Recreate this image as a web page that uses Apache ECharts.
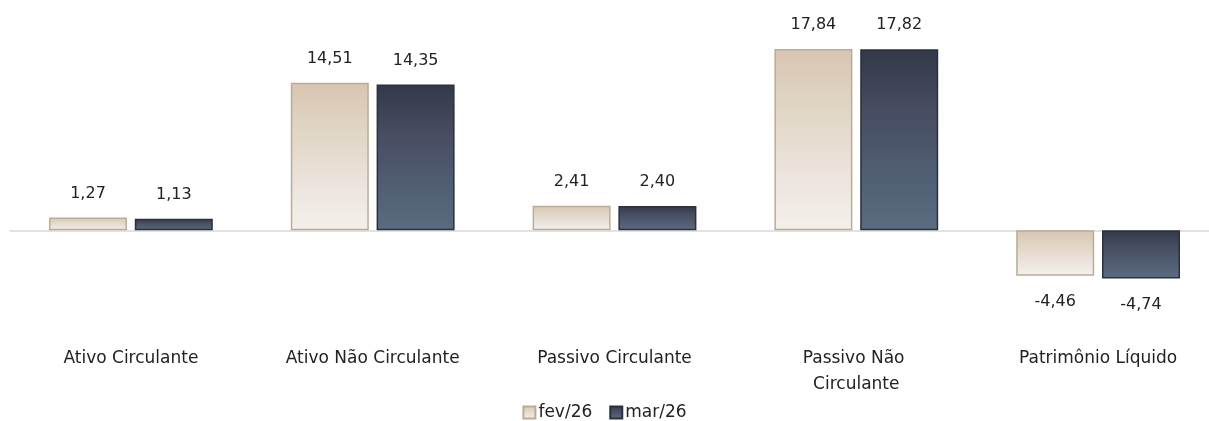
<!DOCTYPE html>
<html>
<head>
<meta charset="utf-8">
<script src="https://cdn.jsdelivr.net/npm/echarts@6/dist/echarts.min.js"></script>
<style>
html,body{margin:0;padding:0;background:#fff;}
#chart{width:1209px;height:421px;}
</style>
</head>
<body>
<div id="chart"></div>
<script>
const categories = ['Ativo Circulante', 'Ativo Não Circulante', 'Passivo Circulante', 'Passivo Não Circulante', 'Patrimônio Líquido'];
const seriesNames = ['fev/26', 'mar/26'];
const fevValues = [1.27, 14.51, 2.41, 17.84, -4.46];
const marValues = [1.13, 14.35, 2.40, 17.82, -4.74];

const FONT = 'DejaVu Sans';
const chart = echarts.init(document.getElementById('chart'), null, {renderer: 'canvas'});

function grad(stops) {
  return new echarts.graphic.LinearGradient(0, 0, 0, 1, stops.map((c, i) => ({offset: i / (stops.length - 1), color: c})));
}
const fmt = p => p.value.toFixed(2).replace('.', ',');
const labelCfg = {
  show: true, position: 'top', distance: 16, formatter: fmt,
  fontFamily: FONT, fontSize: 16, color: '#222222'
};
const labelNeg = Object.assign({}, labelCfg, {position: 'bottom', distance: 18});

function mkData(vals) {
  return vals.map(v => ({value: v, label: v < 0 ? labelNeg : labelCfg}));
}

const fevColor = grad(['#d8c5b1', '#e0d6c5', '#ebe2dc', '#f4f1ea']);
const marColor = grad(['#323949', '#474c61', '#4f5d72', '#5b6b80']);

chart.setOption({
  animation: false,
  textStyle: {fontFamily: FONT},
  grid: {left: 10, width: 1209, top: 27, bottom: 89, containLabel: false, outerBoundsMode: 'none'},
  legend: {
    bottom: -5, left: 'center', itemWidth: 12, itemHeight: 12, itemGap: 17, icon: 'rect',
    textStyle: {fontFamily: FONT, fontSize: 17, color: '#222222', padding: [0, 0, 0, -2]},
    data: seriesNames
  },
  xAxis: {
    type: 'category', data: categories,
    axisLine: {show: true, onZero: true, lineStyle: {color: '#d9d9d9', width: 1.5}},
    axisTick: {show: false},
    axisLabel: {
      interval: 0, margin: 14, fontFamily: FONT, fontSize: 17, color: '#222222',
      width: 185, overflow: 'break', lineHeight: 26
    }
  },
  yAxis: {type: 'value', min: -10, max: 20, show: false, splitLine: {show: false}},
  series: [
    {
      name: seriesNames[0], type: 'bar', data: mkData(fevValues), barWidth: 78, barGap: '10%',
      itemStyle: {color: fevColor, borderColor: '#bcab96', borderWidth: 1.5}
    },
    {
      name: seriesNames[1], type: 'bar', data: mkData(marValues), barWidth: 78, barGap: '10%',
      itemStyle: {color: marColor, borderColor: '#2b303d', borderWidth: 1.5}
    }
  ]
});
</script>
</body>
</html>
